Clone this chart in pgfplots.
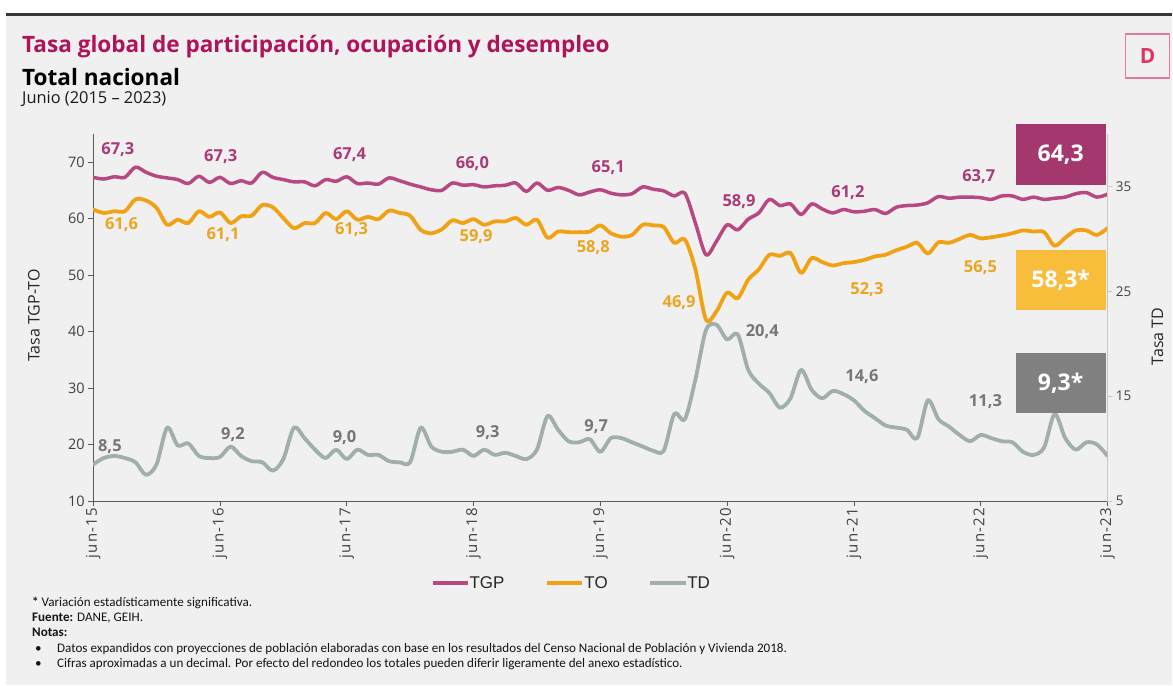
\documentclass[border=0pt]{standalone}
\usepackage{fontspec}
\setmainfont{Open Sans}
\newfontfamily\notefont{Carlito}
\newfontfamily\legfont{Liberation Sans}
\newfontfamily\tickfont[LetterSpace=8]{Open Sans}
\usepackage{pgfplots}
\pgfplotsset{compat=1.18}
\usepackage{pgfplotstable}

\definecolor{bg}{RGB}{240,240,240}
\definecolor{topline}{RGB}{55,55,55}
\definecolor{titlecol}{RGB}{175,20,90}
\definecolor{tgpcol}{RGB}{184,72,130}
\definecolor{tgplab}{RGB}{170,58,120}
\definecolor{tocol}{RGB}{240,162,20}
\definecolor{tolab}{RGB}{235,165,30}
\definecolor{tdcol}{RGB}{160,174,172}
\definecolor{tdlab}{RGB}{118,118,118}
\definecolor{tgpbox}{RGB}{163,55,110}
\definecolor{tobox}{RGB}{249,189,60}
\definecolor{tdbox}{RGB}{128,128,128}
\definecolor{tickcol}{RGB}{64,64,64}
\definecolor{axiscol}{RGB}{90,90,90}
\definecolor{raxiscol}{RGB}{200,200,200}
\definecolor{logoframe}{RGB}{232,120,160}
\definecolor{logored}{RGB}{226,50,100}

\pgfplotstableread{
i tgp to td
0 67.3 61.6 8.5
1 67.0 61.0 9.1
2 67.4 61.3 9.3
3 67.3 61.3 9.1
4 69.1 63.4 8.7
5 68.2 63.2 7.5
6 67.5 61.9 8.5
7 67.2 58.9 12.0
8 66.9 59.8 10.3
9 66.2 59.2 10.5
10 67.5 61.3 9.3
11 66.4 60.3 9.1
12 67.3 61.1 9.2
13 66.2 59.2 10.2
14 66.7 60.4 9.3
15 66.3 60.5 8.8
16 68.2 62.4 8.7
17 67.3 62.0 7.9
18 66.9 60.1 9.0
19 66.5 58.3 12.0
20 66.5 59.2 11.0
21 65.8 59.2 9.9
22 66.9 61.0 9.1
23 66.6 59.9 9.9
24 67.4 61.3 9.0
25 66.2 59.8 9.9
26 66.3 60.3 9.4
27 66.1 59.9 9.4
28 67.2 61.4 8.8
29 66.7 61.0 8.7
30 66.1 60.5 8.7
31 65.6 58.0 12.0
32 65.1 57.4 10.2
33 65.0 58.1 9.7
34 66.3 59.7 9.7
35 65.9 59.2 9.9
36 66.0 59.9 9.3
37 65.6 58.9 9.9
38 65.8 59.5 9.4
39 65.9 59.5 9.6
40 66.3 60.1 9.3
41 64.8 58.9 9.0
42 66.3 59.8 9.9
43 65.0 56.6 13.1
44 65.5 57.7 11.8
45 65.0 57.6 10.7
46 64.2 57.6 10.6
47 64.7 57.7 10.9
48 65.1 58.8 9.7
49 64.5 57.4 11.0
50 64.2 56.8 11.0
51 64.4 57.1 10.6
52 65.6 58.9 10.2
53 65.2 58.8 9.8
54 64.9 58.5 9.8
55 64.0 55.7 13.3
56 64.5 56.3 12.8
57 59.2 51.0 16.6
58 53.6 42.1 21.3
59 56.0 43.6 21.8
60 58.9 46.9 20.4
61 58.0 45.9 20.9
62 59.9 49.2 17.5
63 61.0 51.0 16.2
64 63.4 53.6 15.3
65 62.3 53.4 13.9
66 62.6 53.9 14.8
67 60.7 50.4 17.5
68 62.6 53.0 15.6
69 61.7 52.3 14.8
70 61.0 51.7 15.5
71 61.6 52.1 15.2
72 61.2 52.3 14.6
73 61.3 52.7 13.6
74 61.6 53.3 12.9
75 60.9 53.6 12.2
76 62.0 54.4 12.0
77 62.3 55.0 11.8
78 62.4 55.7 11.0
79 62.8 53.8 14.6
80 63.9 55.8 12.8
81 63.6 55.7 12.1
82 63.8 56.4 11.3
83 63.8 57.1 10.7
84 63.7 56.5 11.3
85 63.4 56.7 11.0
86 64.0 57.0 10.7
87 64.0 57.4 10.6
88 63.4 57.9 9.7
89 63.8 57.7 9.4
90 63.4 57.6 10.1
91 63.6 55.2 13.3
92 63.8 56.6 11.0
93 64.4 57.9 9.9
94 64.6 57.9 10.6
95 63.8 57.1 10.4
96 64.3 58.3 9.3
}\datatable

\begin{document}
\begin{tikzpicture}[x=1pt,y=1pt]
\fill[white] (0,0) rectangle (1173,-686);
\fill[bg] (6,-14) rectangle (1173,-686);
\draw[line width=3pt, topline] (6,-15) -- (1173,-15);

% titles
\node[anchor=base west, inner sep=0, text=titlecol, font=\fontsize{22.6}{26}\selectfont\bfseries] at (22,-53) {Tasa global de participación, ocupación y desempleo};
\node[anchor=base west, inner sep=0, text=black, font=\fontsize{22.6}{26}\selectfont\bfseries] at (22,-85.5) {Total nacional};
\node[anchor=base west, inner sep=0, text=black!90, font=\fontsize{16.4}{18}\selectfont] at (22,-104) {Junio (2015 – 2023)};

% logo
\draw[logoframe, line width=1.2pt] (1127,-34) rectangle (1171,-78);
\node[text=logored, inner sep=0, font=\fontsize{21}{21}\selectfont\bfseries] at (1149,-56) {D};

\begin{axis}[
  at={(93.3pt,-501.7pt)}, anchor=south west,
  scale only axis, width=1015.7pt, height=367.7pt,
  xmin=0, xmax=96, ymin=10, ymax=75,
  axis x line*=bottom, axis y line*=left,
  xtick={0,12,...,96},
  xticklabels={jun-15,jun-16,jun-17,jun-18,jun-19,jun-20,jun-21,jun-22,jun-23},
  x tick label style={rotate=90, anchor=east, font=\tickfont\fontsize{15}{15}\selectfont, text=tickcol, inner sep=2pt},
  ytick={10,20,...,70},
  y tick label style={font=\fontsize{14.5}{14.5}\selectfont, text=tickcol},
  /pgf/number format/assume math mode=true,
  tick align=outside, major tick length=5pt,
  every tick/.style={draw=axiscol, line width=0.8pt},
  x axis line style={draw=axiscol, line width=1pt},
  y axis line style={draw=axiscol, line width=1pt},
]
\addplot[tgpcol, line width=3.5pt, smooth, line join=round, line cap=round] table[x=i,y=tgp]{\datatable};
\addplot[tocol, line width=3.8pt, smooth, line join=round, line cap=round] table[x=i,y=to]{\datatable};
\end{axis}

\begin{axis}[
  at={(93.3pt,-501.7pt)}, anchor=south west,
  scale only axis, width=1015.7pt, height=367.7pt,
  xmin=0, xmax=96, ymin=5, ymax=40,
  axis y line*=right, axis x line=none,
  ytick={5,15,25,35},
  y tick label style={font=\fontsize{13.5}{13.5}\selectfont, text=tickcol},
  /pgf/number format/assume math mode=true,
  tick align=outside, major tick length=5pt,
  every tick/.style={draw=raxiscol, line width=0.8pt},
  y axis line style={draw=raxiscol, line width=1pt},
]
\addplot[tdcol, line width=3.8pt, smooth, line join=round, line cap=round] table[x=i,y=td]{\datatable};
\end{axis}

% axis titles
\node[rotate=90, inner sep=0, text=black!85, font=\fontsize{16}{16}\selectfont] at (34,-316) {Tasa TGP-TO};
\node[rotate=90, inner sep=0, text=black!85, font=\fontsize{16}{16}\selectfont] at (1159,-337) {Tasa TD};

% data labels
\begin{scope}[every node/.style={inner sep=0, font=\fontsize{16.5}{16.5}\selectfont\bfseries}]
\node[text=tgplab] at (118,-150) {67,3};
\node[text=tgplab] at (221,-156.7) {67,3};
\node[text=tgplab] at (350,-155) {67,4};
\node[text=tgplab] at (473,-163.3) {66,0};
\node[text=tgplab] at (609,-168.3) {65,1};
\node[text=tgplab] at (740,-201.7) {58,9};
\node[text=tgplab] at (849,-193.3) {61,2};
\node[text=tgplab] at (980,-176.7) {63,7};
\node[text=tolab] at (121.7,-225) {61,6};
\node[text=tolab] at (223.3,-235) {61,1};
\node[text=tolab] at (352,-230) {61,3};
\node[text=tolab] at (476.7,-237.3) {59,9};
\node[text=tolab] at (594,-248.3) {58,8};
\node[text=tolab] at (680,-303.3) {46,9};
\node[text=tolab] at (868,-290) {52,3};
\node[text=tolab] at (981.7,-268.3) {56,5};
\node[text=tdlab] at (110,-446.7) {8,5};
\node[text=tdlab] at (233.3,-435) {9,2};
\node[text=tdlab] at (345,-438.3) {9,0};
\node[text=tdlab] at (488.3,-432.7) {9,3};
\node[text=tdlab] at (597,-426.7) {9,7};
\node[text=tdlab] at (763.3,-331.7) {20,4};
\node[text=tdlab] at (863,-376.7) {14,6};
\node[text=tdlab] at (986.7,-401.7) {11,3};
\end{scope}

% value boxes
\fill[tgpbox] (1017,-124) rectangle (1107,-185);
\fill[tobox] (1017,-250) rectangle (1107,-310.7);
\fill[tdbox] (1017,-353.3) rectangle (1107,-414);
\begin{scope}[every node/.style={inner sep=0, text=white, font=\fontsize{23}{23}\selectfont\bfseries}]
\node at (1062,-154.5) {64,3};
\node at (1062,-280.3) {58,3*};
\node at (1062,-383.7) {9,3*};
\end{scope}

% legend
\draw[tgpcol, line width=4pt] (434,-583.3) -- (469,-583.3);
\node[anchor=west, inner sep=0, font=\legfont\fontsize{17}{17}\selectfont, text=black!85] at (470,-583.3) {TGP};
\draw[tocol, line width=4pt] (548,-583.3) -- (583,-583.3);
\node[anchor=west, inner sep=0, font=\legfont\fontsize{17}{17}\selectfont, text=black!85] at (585,-583.3) {TO};
\draw[tdcol, line width=4pt] (651,-583.3) -- (687,-583.3);
\node[anchor=west, inner sep=0, font=\legfont\fontsize{17}{17}\selectfont, text=black!85] at (688,-583.3) {TD};

% notes
\begin{scope}[every node/.style={anchor=base west, inner sep=0, text=black!92, font=\notefont\fontsize{13.1}{15}\selectfont}]
\node at (32,-607) {\textbf{*} Variación estadísticamente significativa.};
\node at (32,-622) {\textbf{Fuente:} DANE, GEIH.};
\node at (32,-637) {\textbf{Notas:}};
\node at (35,-653) {•};
\node at (57,-653) {Datos expandidos con proyecciones de población elaboradas con base en los resultados del Censo Nacional de Población y Vivienda 2018.};
\node at (35,-668) {•};
\node at (57,-668) {Cifras aproximadas a un decimal. Por efecto del redondeo los totales pueden diferir ligeramente del anexo estadístico.};
\end{scope}
\end{tikzpicture}
\end{document}
